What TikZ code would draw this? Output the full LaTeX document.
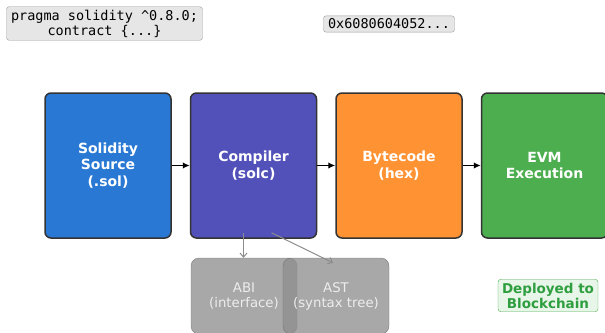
\documentclass[tikz,border=0pt]{standalone}
\usepackage{fontspec}
\setmainfont{DejaVu Sans}
\setmonofont{DejaVu Sans Mono}
\usetikzlibrary{arrows.meta, positioning, calc}

\definecolor{solblue}{HTML}{2878D4}
\definecolor{compviolet}{HTML}{5151B9}
\definecolor{bcorange}{HTML}{FF9233}
\definecolor{evmgreen}{HTML}{4DAE50}
\definecolor{edgegray}{HTML}{333333}
\definecolor{artgray}{HTML}{8F8F8F}
\definecolor{artedge}{HTML}{6A6A6A}
\definecolor{codefill}{HTML}{E6E6E6}
\definecolor{codeedge}{HTML}{999999}
\definecolor{deployfill}{HTML}{E8F5E9}
\definecolor{deploytext}{HTML}{2E9E3E}

\begin{document}
\begin{tikzpicture}[x=1pt, y=-1pt, node distance=18pt,
    stage/.style={draw=edgegray, line width=1.5pt, rounded corners=6pt, minimum width=126pt, minimum height=145pt, text=white, align=center, font=\bfseries\fontsize{14}{16.5}\selectfont},
    code/.style={draw=codeedge, fill=codefill, rounded corners=2.5pt, inner xsep=4.5pt, inner ysep=3pt, align=center, font=\ttfamily\fontsize{13.5}{15}\selectfont},
    artifact/.style={draw=artedge, fill=artgray, fill opacity=0.78, draw opacity=0.8, text opacity=1, text=white!93!black, rounded corners=8pt, minimum width=106pt, minimum height=76pt, align=center, font=\fontsize{13.3}{15}\selectfont},
    flow/.style={-{Latex[length=7pt, width=6.5pt]}, line width=1.5pt},
    side/.style={-{Straight Barb[length=4pt, width=7pt]}, draw=gray!110!black, line width=1pt}]
    \clip (0,0) rectangle (605,332);

    % Source snippets
    \node[code] (pragma) at (104.5,23.5) {pragma solidity \textasciicircum 0.8.0;\\contract \{...\}};
    \node[code] (hex) at (389,24) {0x6080604052...};

    % Pipeline
    \node[stage, fill=solblue] (src) at (108,165.5) {Solidity\\Source\\(.sol)};
    \node[stage, fill=compviolet, right=of src] (solc) {Compiler\\(solc)};
    \node[stage, fill=bcorange, right=of solc] (bytecode) {Bytecode\\(hex)};
    \node[stage, fill=evmgreen, right=of bytecode] (evm) {EVM\\Execution};

    \draw[flow] (src) -- (solc);
    \draw[flow] (solc) -- (bytecode);
    \draw[flow] (bytecode) -- (evm);

    % Compiler outputs
    \node[artifact] (abi) at (244,296) {ABI\\(interface)};
    \node[artifact] (ast) at (336,296) {AST\\(syntax tree)};

    \coordinate (abiout) at ($(solc.south)+(-10,-6)$);
    \coordinate (astout) at ($(solc.south)+(18,-6)$);
    \coordinate (astin) at ($(ast.north)+(-3,5)$);
    \draw[side] (abiout) -- (abiout |- abi.north);
    \draw[side] (astout) -- (astin);

    \node[draw=evmgreen, fill=deployfill, text=deploytext, rounded corners=3pt, inner xsep=4pt, inner ysep=3.5pt, align=center, font=\bfseries\fontsize{13.5}{15}\selectfont] (chain) at (548,295.5) {Deployed to\\Blockchain};
\end{tikzpicture}
\end{document}
